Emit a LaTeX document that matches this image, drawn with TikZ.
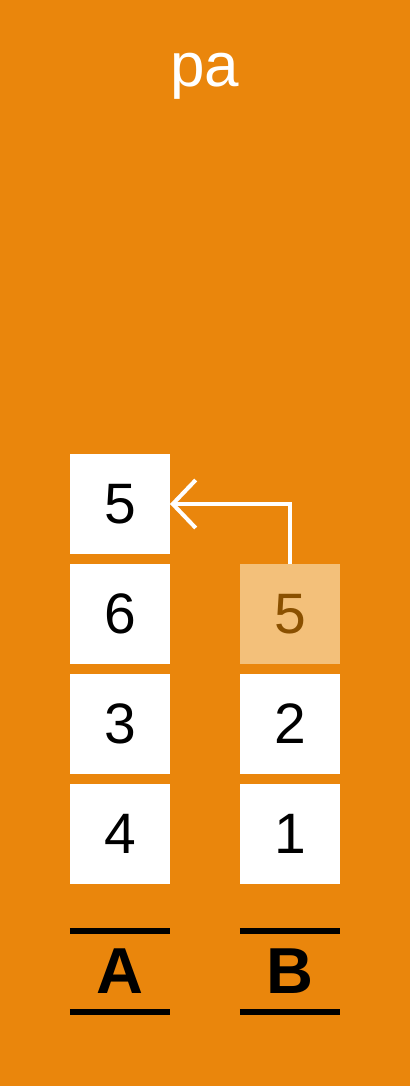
\documentclass[tikz,border=0pt]{standalone}
\usepackage{fontspec}
\setmainfont{Liberation Sans}
\usetikzlibrary{arrows.meta}
\definecolor{bgorange}{RGB}{234,134,12}
\definecolor{fadebox}{RGB}{243,192,122}
\definecolor{fadetext}{RGB}{138,80,0}
\tikzset{
  cell/.style={fill=white,minimum size=99.5pt,inner sep=0pt,
    font=\fontsize{57}{57}\selectfont},
  fadecell/.style={cell,fill=fadebox,text=fadetext},
  stacklabel/.style={minimum width=100pt,minimum height=81pt,inner sep=0pt,
    font=\fontsize{65}{65}\selectfont\bfseries}
}
\begin{document}
\begin{tikzpicture}[x=1pt,y=-1pt]

      \fill[bgorange] (0,0) rectangle (410,1086);
      \useasboundingbox (0,0) rectangle (410,1086);

      \node[text=white,font=\fontsize{62}{62}\selectfont] (title) at (205,76) {pa};

      \begin{scope}[every node/.style={cell}]
        \node (a1) at (120,504) {5};
        \node (a2) at (120,614) {6};
        \node (a3) at (120,724) {3};
        \node (a4) at (120,834) {4};
        \node[fadecell] (b1) at (290,614) {5};
        \node (b2) at (290,724) {2};
        \node (b3) at (290,834) {1};
      \end{scope}

      \begin{scope}[every node/.style={stacklabel}]
        \node (la) at (120,971.5) {A};
        \node (lb) at (290,971.5) {B};
      \end{scope}

      \begin{scope}[line width=6pt]
        \draw (la.north west) -- (la.north east);
        \draw (la.south west) -- (la.south east);
        \draw (lb.north west) -- (lb.north east);
        \draw (lb.south west) -- (lb.south east);
      \end{scope}

      \draw[white,line width=4pt,-{Straight Barb[length=23pt,width=48pt]}]
        (b1.north) |- (a1.east);

    \end{tikzpicture}
\end{document}
